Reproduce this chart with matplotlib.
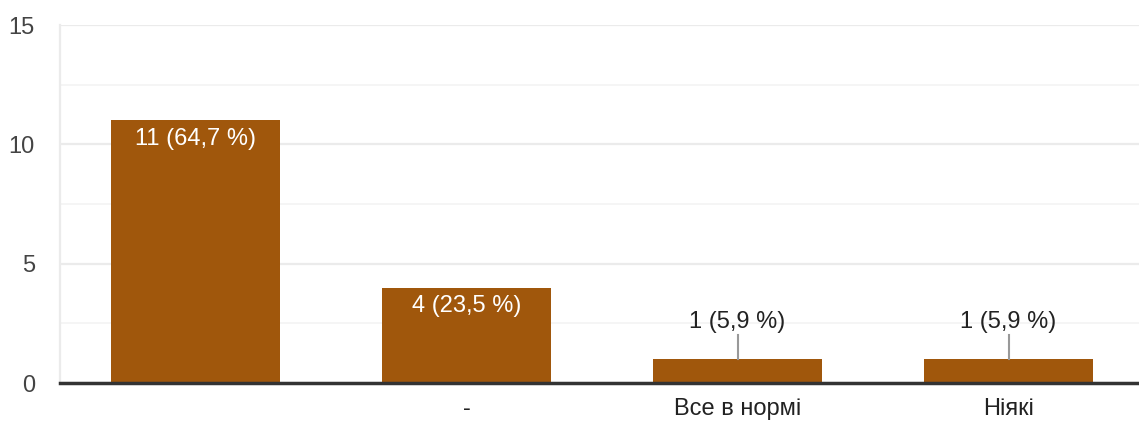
import numpy as np
import matplotlib
matplotlib.use('Agg')
import matplotlib.pyplot as plt

categories = ['', '-', 'Все в нормі', 'Ніякі']
counts = [11, 4, 1, 1]
percents = ['64,7', '23,5', '5,9', '5,9']

bar_color = '#A0570C'

plt.rcParams['font.family'] = ['Liberation Sans', 'DejaVu Sans']
fs = 17

fig = plt.figure(figsize=(11.39, 4.24), dpi=100)
# axes run a touch past the right edge, like the original
ax = fig.add_axes([60/1139, 41/424, 1084/1139, 358/424])

x = np.arange(len(categories))
ax.bar(x, counts, width=0.62, color=bar_color, zorder=3)

ax.set_xlim(-0.5, 3.5)
ax.set_ylim(0, 15)
ax.set_yticks([0, 5, 10, 15])
ax.set_yticks([2.5, 7.5, 12.5], minor=True)
ax.grid(axis='y', which='major', color='#EBEBEB', linewidth=1.6, zorder=0)
ax.grid(axis='y', which='minor', color='#F3F3F3', linewidth=1.2, zorder=0)
ax.tick_params(axis='y', which='both', length=0, labelsize=fs, labelcolor='#444444', pad=18)
ax.set_xticks(x)
ax.set_xticklabels(categories)
ax.tick_params(axis='x', length=0, labelsize=fs, labelcolor='#222222', pad=11)

for s in ['top', 'right']:
    ax.spines[s].set_visible(False)
ax.spines['left'].set_color('#EBEBEB')
ax.spines['left'].set_linewidth(1.6)
ax.spines['bottom'].set_color('#333333')
ax.spines['bottom'].set_linewidth(2.5)
ax.spines['bottom'].set_zorder(4)

for xi, c, p in zip(x, counts, percents):
    label = '{} ({} %)'.format(c, p)
    if c >= 3:
        ax.text(xi, c - 0.3, label, ha='center', va='top', color='white', fontsize=fs, zorder=5)
    else:
        ax.plot([xi, xi], [c, c + 1.0], color='#999999', linewidth=1.5, zorder=4)
        ax.text(xi, c + 1.1, label, ha='center', va='bottom', color='#222222', fontsize=fs, zorder=5)

fig.savefig('out.png', dpi=100)
